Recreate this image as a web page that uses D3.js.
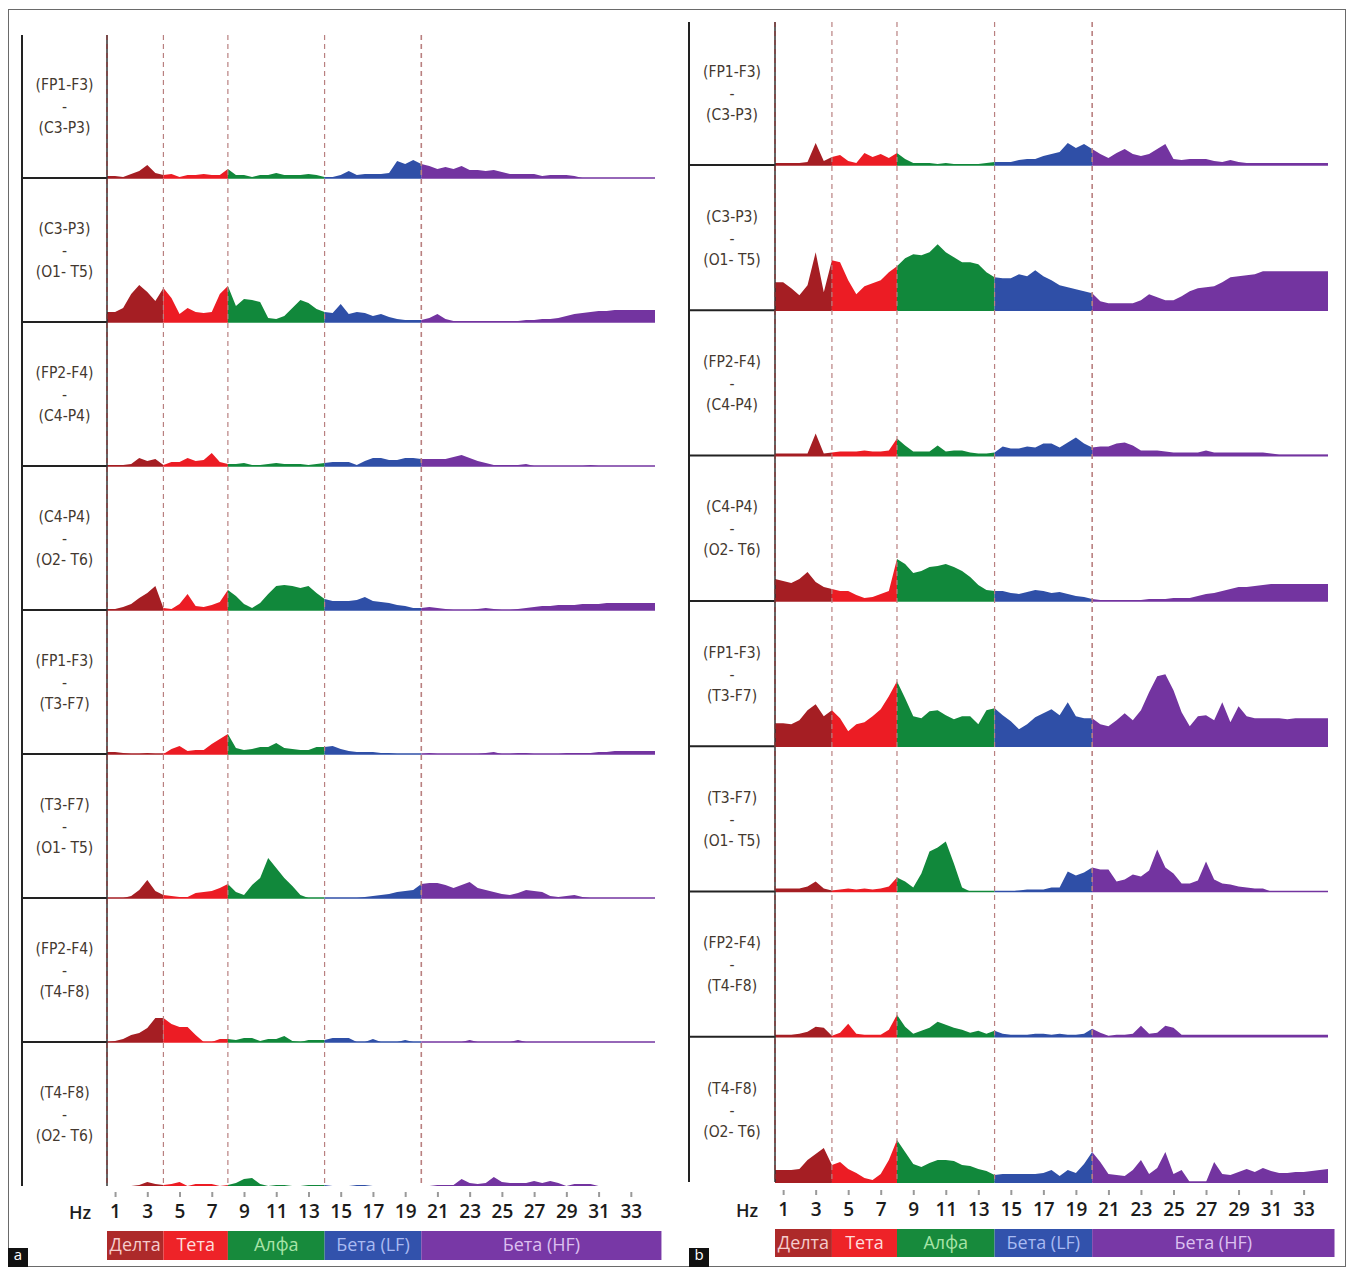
<!DOCTYPE html>
<html>
<head>
<meta charset="utf-8">
<script src="https://cdn.jsdelivr.net/npm/d3@7"></script>
<style>
  body { margin: 0; background: #fff; }
  svg { display: block; }
</style>
</head>
<body>
<svg width="1346" height="1267"></svg>
<script>
"use strict";
// EEG power spectra, 0.5..34.5 Hz in 0.5 Hz bins (69 values per derivation)
const HZ = d3.range(0.5, 34.51, 0.5);
const TICK_HZ = [1, 3, 5, 7, 9, 11, 13, 15, 17, 19, 21, 23, 25, 27, 29, 31, 33];
const BAND_NAMES = ["Делта", "Тета", "Алфа", "Бета (LF)", "Бета (HF)"];
const BAND_EDGES = [0.5, 4, 8, 14, 20, 34.5];
const BAR_EDGES = [0.5, 4, 8, 14, 20, 34.9];
const DERIVATIONS = [
    ["(FP1-F3)", "(C3-P3)"], ["(C3-P3)", "(O1- T5)"], ["(FP2-F4)", "(C4-P4)"], ["(C4-P4)", "(O2- T6)"],
    ["(FP1-F3)", "(T3-F7)"], ["(T3-F7)", "(O1- T5)"], ["(FP2-F4)", "(T4-F8)"], ["(T4-F8)", "(O2- T6)"]
];

// panel a (relative power)
const powerA1 = [2,2,1,4,7,13,5,3, 4,1,3,3,4,3,3,9, 3,3,1,3,3,5,3,3,3,4,3,1, 1,3,7,3,4,4,4,5,17,14,18,14,
    12,9,11,9,12,8,8,7,8,6, 4,4,4,4,2,3,3,3,2,0, 0,0,0,0,0,0,0,0,0];
const powerA2 = [10,10,14,28,37,30,21,34, 24,8,14,10,9,10,28,36, 16,23,22,20,4,3,6,14,22,19,13,10, 9,18,8,10,9,6,8,5,3,2,2,2,
    4,8,3,1,1,1,1,1,1,1, 1,1,2,2,3,3,4,6,8,9, 10,11,11,12,12,12,12,12,12];
const powerA3 = [1,1,1,2,8,5,7,1, 4,4,8,5,6,13,4,2, 2,3,1,1,2,3,2,2,2,1,2,3, 4,4,4,1,5,8,8,6,6,8,8,7,
    7,7,7,9,11,8,5,3,1,1, 1,1,2,0,0,0,0,0,0,0, 1,0,0,0,0,0,0,0,0];
const powerA4 = [1,1,3,6,12,17,24,2, 1,6,16,4,3,5,8,20, 14,6,2,7,16,24,25,24,22,24,17,11, 9,9,9,10,13,9,8,7,5,4,2,2,
    3,2,1,0,0,0,1,2,1,0, 0,1,2,3,4,4,5,5,5,6, 6,6,7,7,7,7,7,7,7];
const powerA5 = [2,2,1,0,0,1,0,0, 5,8,3,4,4,10,15,20, 6,4,5,7,7,11,6,5,4,4,7,7, 8,5,3,2,2,2,1,1,0,0,0,0,
    1,0,0,0,0,0,0,1,2,0, 0,1,1,0,0,0,0,1,1,1, 1,2,2,3,3,3,3,3,3];
const powerA6 = [0,0,0,2,8,18,7,3, 2,1,1,5,6,7,10,14, 6,3,13,20,40,30,20,12,3,0,0,0, 0,0,0,0,1,2,3,4,6,7,8,14,
    15,15,13,10,13,16,10,8,6,4, 3,5,8,7,6,2,1,2,3,1, 0,0,0,0,0,0,0,0,0];
const powerA7 = [0,1,3,7,9,14,24,24, 18,15,15,7,0,0,3,3, 2,4,4,1,3,3,6,1,0,2,2,2, 4,4,4,0,0,3,0,0,0,2,0,0,
    0,0,0,0,0,2,0,0,0,0, 0,2,0,0,0,0,0,0,0,0, 0,0,0,0,0,0,0,0,0];
const powerA8 = [0,0,0,0,1,4,2,1, 2,4,0,2,2,2,0,1, 3,7,8,2,0,1,1,0,0,1,1,1, 0,0,0,1,1,0,0,0,0,0,0,0,
    0,1,1,1,7,3,2,3,9,4, 3,3,3,5,3,5,3,0,2,2, 2,0,0,0,0,0,0,0,0];

// panel b
const powerB1 = [2,2,2,2,3,22,4,8, 10,4,2,12,8,11,7,12, 6,2,2,2,1,2,1,1,1,1,2,3, 3,3,5,6,6,9,11,13,22,17,21,16,
    11,7,12,16,11,9,11,16,21,6, 5,6,6,6,4,3,5,3,2,2, 2,2,2,2,2,2,2,2,2];
const powerB2 = [28,28,22,15,25,58,18,50, 48,30,16,24,27,30,38,44, 52,56,55,58,66,58,53,48,48,46,38,33, 32,32,36,34,40,34,30,25,23,21,19,17,
    9,7,7,7,7,10,16,13,10,10, 14,19,22,23,24,28,33,34,35,36, 39,39,39,39,39,39,39,39,39];
const powerB3 = [2,2,2,2,2,22,2,3, 4,4,4,5,4,4,5,17, 10,4,4,4,10,4,5,5,3,2,2,3, 9,7,7,9,8,12,12,8,13,18,12,8,
    9,9,12,13,10,5,5,5,4,3, 3,3,3,5,3,3,3,3,3,3, 3,2,1,1,1,1,1,1,1];
const powerB4 = [22,20,18,22,29,19,14,12, 10,10,6,3,4,7,10,42, 37,28,30,34,35,37,34,30,24,16,11,10, 10,8,7,9,11,10,8,9,7,5,4,2,
    1,1,1,1,1,1,2,2,2,3, 3,3,5,7,8,10,12,14,14,15, 16,17,17,17,17,17,17,17,17];
const powerB5 = [23,23,22,26,36,42,30,36, 28,15,22,24,30,37,50,65, 48,30,28,35,36,31,27,30,30,22,36,38, 31,25,17,22,29,33,37,31,44,30,28,28,
    22,20,26,33,26,36,54,70,72,56, 34,20,30,31,26,44,24,40,30,28, 28,28,28,27,28,28,28,28,28];
const powerB6 = [3,3,3,3,5,10,3,1, 2,3,2,3,2,3,5,14, 10,4,18,40,44,50,28,4,0,0,0,0, 0,0,1,2,2,2,4,4,20,16,19,24,
    22,22,10,12,17,15,21,42,24,18, 8,8,11,30,12,8,7,5,4,3, 3,0,0,0,0,0,0,0,0];
const powerB7 = [2,2,2,3,5,10,9,1, 4,13,3,2,2,2,7,22, 10,3,6,9,15,12,9,7,4,6,3,6, 3,2,2,2,3,3,2,3,2,2,3,8,
    4,1,2,2,3,11,3,4,11,9, 2,2,2,2,2,2,2,2,2,2, 2,2,2,2,2,2,2,2,2];
const powerB8 = [12,12,12,13,22,28,34,17, 20,13,9,4,2,8,22,42, 30,18,15,19,22,22,21,17,16,13,11,7, 8,8,8,8,8,9,12,6,12,9,18,30,
    20,8,7,6,12,22,8,14,30,8, 12,0,0,0,20,8,7,10,13,10, 14,11,9,9,10,10,11,12,13];

const BAND_FILL = ["#a51e23", "#ec1c24", "#11883b", "#2f4fa7", "#7334a0"];
const BAR_FILL = ["#ad2a2a", "#ee2328", "#178a3c", "#3252ac", "#7838a6"];
const BAR_TEXT = ["#f5cccc", "#ffdcdc", "#a8e4a8", "#a9baf2", "#dcc0f0"];

const panels = [
    { tag: "a", axisX: 22, x0: 107, x1: 655, top: 35, base0: 178, step: 144, hzY: 1192, hzLabelX: 80,
      barY: 1231, barH: 29, tagX: 8, lastBaseline: false,
      series: [powerA1, powerA2, powerA3, powerA4, powerA5, powerA6, powerA7, powerA8] },
    { tag: "b", axisX: 689, x0: 775, x1: 1328, top: 22, base0: 165, step: 145.3, hzY: 1190, hzLabelX: 747,
      barY: 1229, barH: 28, tagX: 689, lastBaseline: true,
      series: [powerB1, powerB2, powerB3, powerB4, powerB5, powerB6, powerB7, powerB8] }
];

const svg = d3.select("svg");
const FONT = "'DejaVu Sans Condensed', 'DejaVu Sans', sans-serif";

// outer frame
svg.append("rect")
    .attr("x", 8.5).attr("y", 9.5).attr("width", 1337).attr("height", 1257)
    .attr("fill", "none").attr("stroke", "#6a6a6a").attr("stroke-width", 1);

panels.forEach(p => {
    const g = svg.append("g");
    const x = d3.scaleLinear().domain([0.5, 34.5]).range([p.x0, p.x1]);
    const bottom = p.base0 + 7 * p.step;

    // rows
    p.series.forEach((vals, r) => {
        const base = p.base0 + r * p.step;
        const y = d3.scaleLinear().domain([0, 100]).range([base, base - 100]);
        const pts = HZ.map((hz, i) => ({ hz: hz, v: vals[i] }));
        const area = d3.area().x(d => x(d.hz)).y0(y(0)).y1(d => y(d.v));

        BAND_FILL.forEach((col, b) => {
            const seg = pts.filter(d => d.hz >= BAND_EDGES[b] && d.hz <= BAND_EDGES[b + 1]);
            g.append("path").attr("d", area(seg)).attr("fill", col);
            if (r < 7 || p.lastBaseline) {
                g.append("line")
                    .attr("x1", x(BAND_EDGES[b])).attr("x2", x(BAND_EDGES[b + 1]))
                    .attr("y1", y(0)).attr("y2", y(0))
                    .attr("stroke", col).attr("stroke-width", 1.6);
            }
        });

        // row separator in the label column
        if (r < 7) {
            g.append("line")
                .attr("x1", p.axisX).attr("x2", p.x0).attr("y1", base).attr("y2", base)
                .attr("stroke", "#222").attr("stroke-width", 2);
        }

        // derivation label
        const lx = (p.axisX + p.x0) / 2;
        const lab = g.append("text")
            .attr("text-anchor", "middle").attr("font-family", FONT).attr("font-stretch", "condensed")
            .attr("font-size", 15.5).attr("fill", "#43382f");
        [[DERIVATIONS[r][0], -93], ["-", -71], [DERIVATIONS[r][1], -50]].forEach(([t, dy]) => {
            lab.append("tspan").attr("x", lx).attr("y", base + dy).attr("dominant-baseline", "middle").text(t);
        });
    });

    // axis lines
    g.append("line").attr("x1", p.axisX).attr("x2", p.axisX).attr("y1", p.top).attr("y2", bottom)
        .attr("stroke", "#222").attr("stroke-width", 2);
    g.append("line").attr("x1", p.x0).attr("x2", p.x0).attr("y1", p.top).attr("y2", bottom)
        .attr("stroke", "#333").attr("stroke-width", 1.5);

    // band boundary dashes
    g.selectAll(".edge").data(BAND_EDGES.slice(0, 5)).join("line")
        .attr("x1", d => x(d)).attr("x2", d => x(d)).attr("y1", p.top).attr("y2", bottom)
        .attr("stroke", d => d === 0.5 ? "#8a3a3a" : "#b98080")
        .attr("stroke-width", d => d === 20 ? 1.6 : 1.2)
        .attr("stroke-dasharray", "5,4");

    // Hz axis
    const ax = g.append("g").attr("transform", `translate(0,${p.hzY})`)
        .call(d3.axisBottom(x).tickValues(TICK_HZ).tickSize(5).tickPadding(8).tickFormat(d3.format("d")));
    ax.select(".domain").remove();
    ax.selectAll(".tick line").attr("stroke", "#9a9a9a").attr("stroke-width", 2);
    ax.selectAll(".tick text").attr("font-family", "'Open Sans', sans-serif").attr("font-weight", 600)
        .attr("font-size", 19).attr("fill", "#1c1c1c");
    g.append("text").attr("x", p.hzLabelX).attr("y", p.hzY + 22)
        .attr("text-anchor", "middle").attr("dominant-baseline", "middle")
        .attr("font-family", "'Open Sans', sans-serif").attr("font-weight", 600)
        .attr("font-size", 18).attr("fill", "#1c1c1c").text("Hz");

    // band legend bar
    BAND_NAMES.forEach((name, b) => {
        const bx0 = x(BAR_EDGES[b]), bx1 = x(BAR_EDGES[b + 1]);
        g.append("rect").attr("x", bx0).attr("y", p.barY).attr("width", bx1 - bx0).attr("height", p.barH)
            .attr("fill", BAR_FILL[b]);
        g.append("text").attr("x", (bx0 + bx1) / 2).attr("y", p.barY + p.barH / 2 + 1)
            .attr("text-anchor", "middle").attr("dominant-baseline", "middle")
            .attr("font-family", "'Open Sans', sans-serif").attr("font-size", 18)
            .attr("fill", BAR_TEXT[b]).text(name);
    });

    // panel tag
    g.append("rect").attr("x", p.tagX).attr("y", 1248).attr("width", 20).attr("height", 19).attr("fill", "#111");
    g.append("text").attr("x", p.tagX + 10).attr("y", 1256)
        .attr("text-anchor", "middle").attr("dominant-baseline", "middle")
        .attr("font-family", "'Open Sans', sans-serif").attr("font-size", 15).attr("fill", "#fff").text(p.tag);
});
</script>
</body>
</html>
